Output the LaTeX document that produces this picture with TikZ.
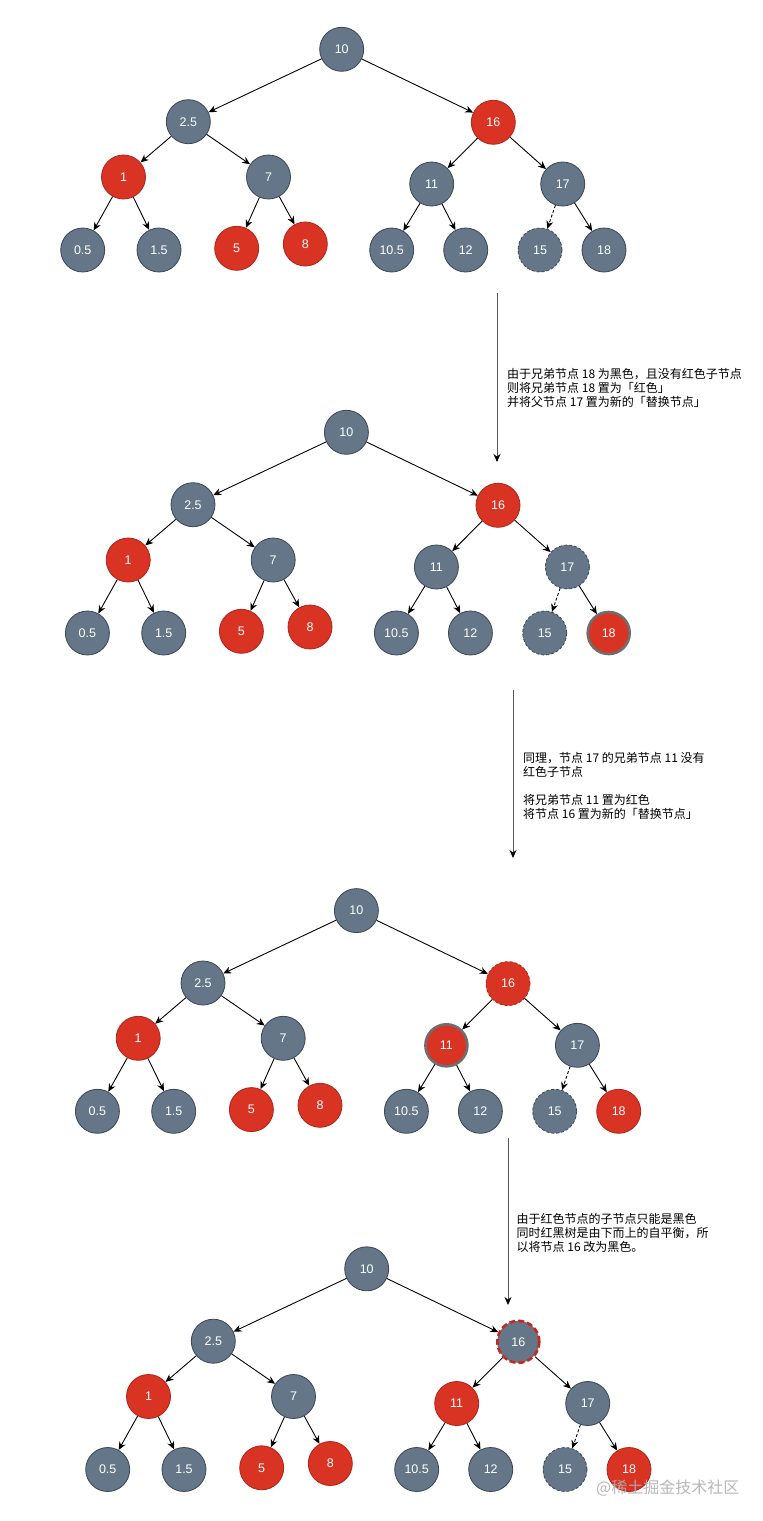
\documentclass[tikz,border=0pt]{standalone}
\usepackage{fontspec}
\setmainfont{Liberation Sans}
\newfontfamily\cjk{Noto Sans CJK SC}
\usetikzlibrary{arrows.meta}
\definecolor{gfill}{HTML}{647687}
\definecolor{gline}{HTML}{3A4756}
\definecolor{rfill}{HTML}{D93323}
\definecolor{rline}{HTML}{B0241A}
\definecolor{gthick}{HTML}{6E6E6E}
\definecolor{rdash}{HTML}{C8281C}
\definecolor{arrgray}{HTML}{555555}
\definecolor{wmark}{HTML}{B0B0B0}
\tikzset{
  nd/.style={circle, minimum size=44pt, inner sep=0pt, text=white,
    font=\fontsize{12.5}{14}\selectfont, line width=0.8pt},
  gnode/.style={fill=gfill, draw=gline},
  rnode/.style={fill=rfill, draw=rline},
  gdash/.style={fill=gfill, draw=gline, dashed, dash pattern=on 3pt off 2pt},
  rgray/.style={fill=rfill, draw=gthick, line width=2.6pt, minimum size=42pt},
  rdashnode/.style={fill=rfill, draw=rline, dashed, dash pattern=on 3pt off 2pt},
  grdash/.style={fill=gfill, draw=rdash, line width=2.6pt, dashed, dash pattern=on 6pt off 3pt, minimum size=42pt},
  edge/.style={draw=black, line width=0.9pt, -{Stealth[length=8pt,width=7pt]}},
  dedge/.style={edge, dashed, dash pattern=on 3pt off 2pt},
  flow/.style={draw=arrgray, line width=1pt, -{Stealth[length=8pt,width=7pt,color=black]}},
  note/.style={anchor=north west, inner sep=0pt, align=left, text=black,
    font=\cjk\fontsize{12}{14}\selectfont},
  sA/.style={gnode}, sB/.style={gnode}, sC/.style={rnode}, sD/.style={rnode},
  sE/.style={gnode}, sF/.style={gnode}, sG/.style={gnode}, sH/.style={gnode},
  sI/.style={rnode}, sJ/.style={gnode}, sK/.style={rnode}, sL/.style={rnode},
  sM/.style={gnode}, sN/.style={gnode}, sO/.style={gdash}, sP/.style={gnode}
}
% one red-black tree, node names prefixed with #1
\newcommand\rbtree[1]{%
  \node[nd,sA] (#1n10) at (341.7,49.3) {10};
  \node[nd,sB] (#1n25) at (188.3,121.7) {2.5};
  \node[nd,sC] (#1n16) at (493.3,122.3) {16};
  \node[nd,sD] (#1n1) at (123.5,177) {1};
  \node[nd,sE] (#1n7) at (268.5,177) {7};
  \node[nd,sF] (#1n11) at (431.7,184) {11};
  \node[nd,sG] (#1n17) at (562.7,184) {17};
  \node[nd,sH] (#1n05) at (82.7,250) {0.5};
  \node[nd,sH] (#1n15b) at (159,250) {1.5};
  \node[nd,sI] (#1n5) at (236.7,248.3) {5};
  \node[nd,sI] (#1n8) at (305.3,244) {8};
  \node[nd,sM] (#1n105) at (391.7,250) {10.5};
  \node[nd,sN] (#1n12) at (465.7,250) {12};
  \node[nd,sO] (#1n15) at (540,250) {15};
  \node[nd,sP] (#1n18) at (604,250) {18};
  \draw[edge] (#1n10) -- (#1n25);
  \draw[edge] (#1n10) -- (#1n16);
  \draw[edge] (#1n25) -- (#1n1);
  \draw[edge] (#1n25) -- (#1n7);
  \draw[edge] (#1n16) -- (#1n11);
  \draw[edge] (#1n16) -- (#1n17);
  \draw[edge] (#1n1) -- (#1n05);
  \draw[edge] (#1n1) -- (#1n15b);
  \draw[edge] (#1n7) -- (#1n5);
  \draw[edge] (#1n7) -- (#1n8);
  \draw[edge] (#1n11) -- (#1n105);
  \draw[edge] (#1n11) -- (#1n12);
  \draw[dedge] (#1n17) -- (#1n15);
  \draw[edge] (#1n17) -- (#1n18);
}
\begin{document}
\begin{tikzpicture}[x=1pt,y=-1pt]
\useasboundingbox[fill=white] (0,0) rectangle (763,1521);

% tree 1
\begin{scope}
  \rbtree{a}
\end{scope}

% tree 2
\begin{scope}[shift={(4.7,383)}, sG/.style={gdash}, sP/.style={rgray}]
  \rbtree{b}
\end{scope}

% tree 3
\begin{scope}[shift={(14.7,861.3)}, sC/.style={rdashnode}, sF/.style={rgray}, sP/.style={rnode}]
  \rbtree{c}
\end{scope}

% tree 4
\begin{scope}[shift={(25,1219.5)}, sC/.style={grdash}, sF/.style={rnode}, sP/.style={rnode}]
  \rbtree{d}
\end{scope}

% flow arrows
\coordinate (f1s) at (497,293);
\coordinate (f1e) at (497,462);
\coordinate (f2s) at (513,690);
\coordinate (f2e) at (513,858);
\coordinate (f3s) at (508,1138);
\coordinate (f3e) at (508,1305);
\draw[flow] (f1s) -- (f1e);
\draw[flow] (f2s) -- (f2e);
\draw[flow] (f3s) -- (f3e);

% notes
\node[note] (t1) at (507,368) {由于兄弟节点 18 为黑色，且没有红色子节点\\则将兄弟节点 18 置为「红色」\\并将父节点 17 置为新的「替换节点」};
\node[note] (t2) at (523,752) {同理，节点 17 的兄弟节点 11 没有\\红色子节点\\[14pt]将兄弟节点 11 置为红色\\将节点 16 置为新的「替换节点」};
\node[note] (t3) at (516.5,1213) {由于红色节点的子节点只能是黑色\\同时红黑树是由下而上的自平衡，所\\以将节点 16 改为黑色。};

% watermark
\node[anchor=west, inner sep=0pt, text=wmark, text opacity=0.9, font=\cjk\fontsize{16}{17}\selectfont] (wm) at (596,1488) {@稀土掘金技术社区};
\end{tikzpicture}
\end{document}
